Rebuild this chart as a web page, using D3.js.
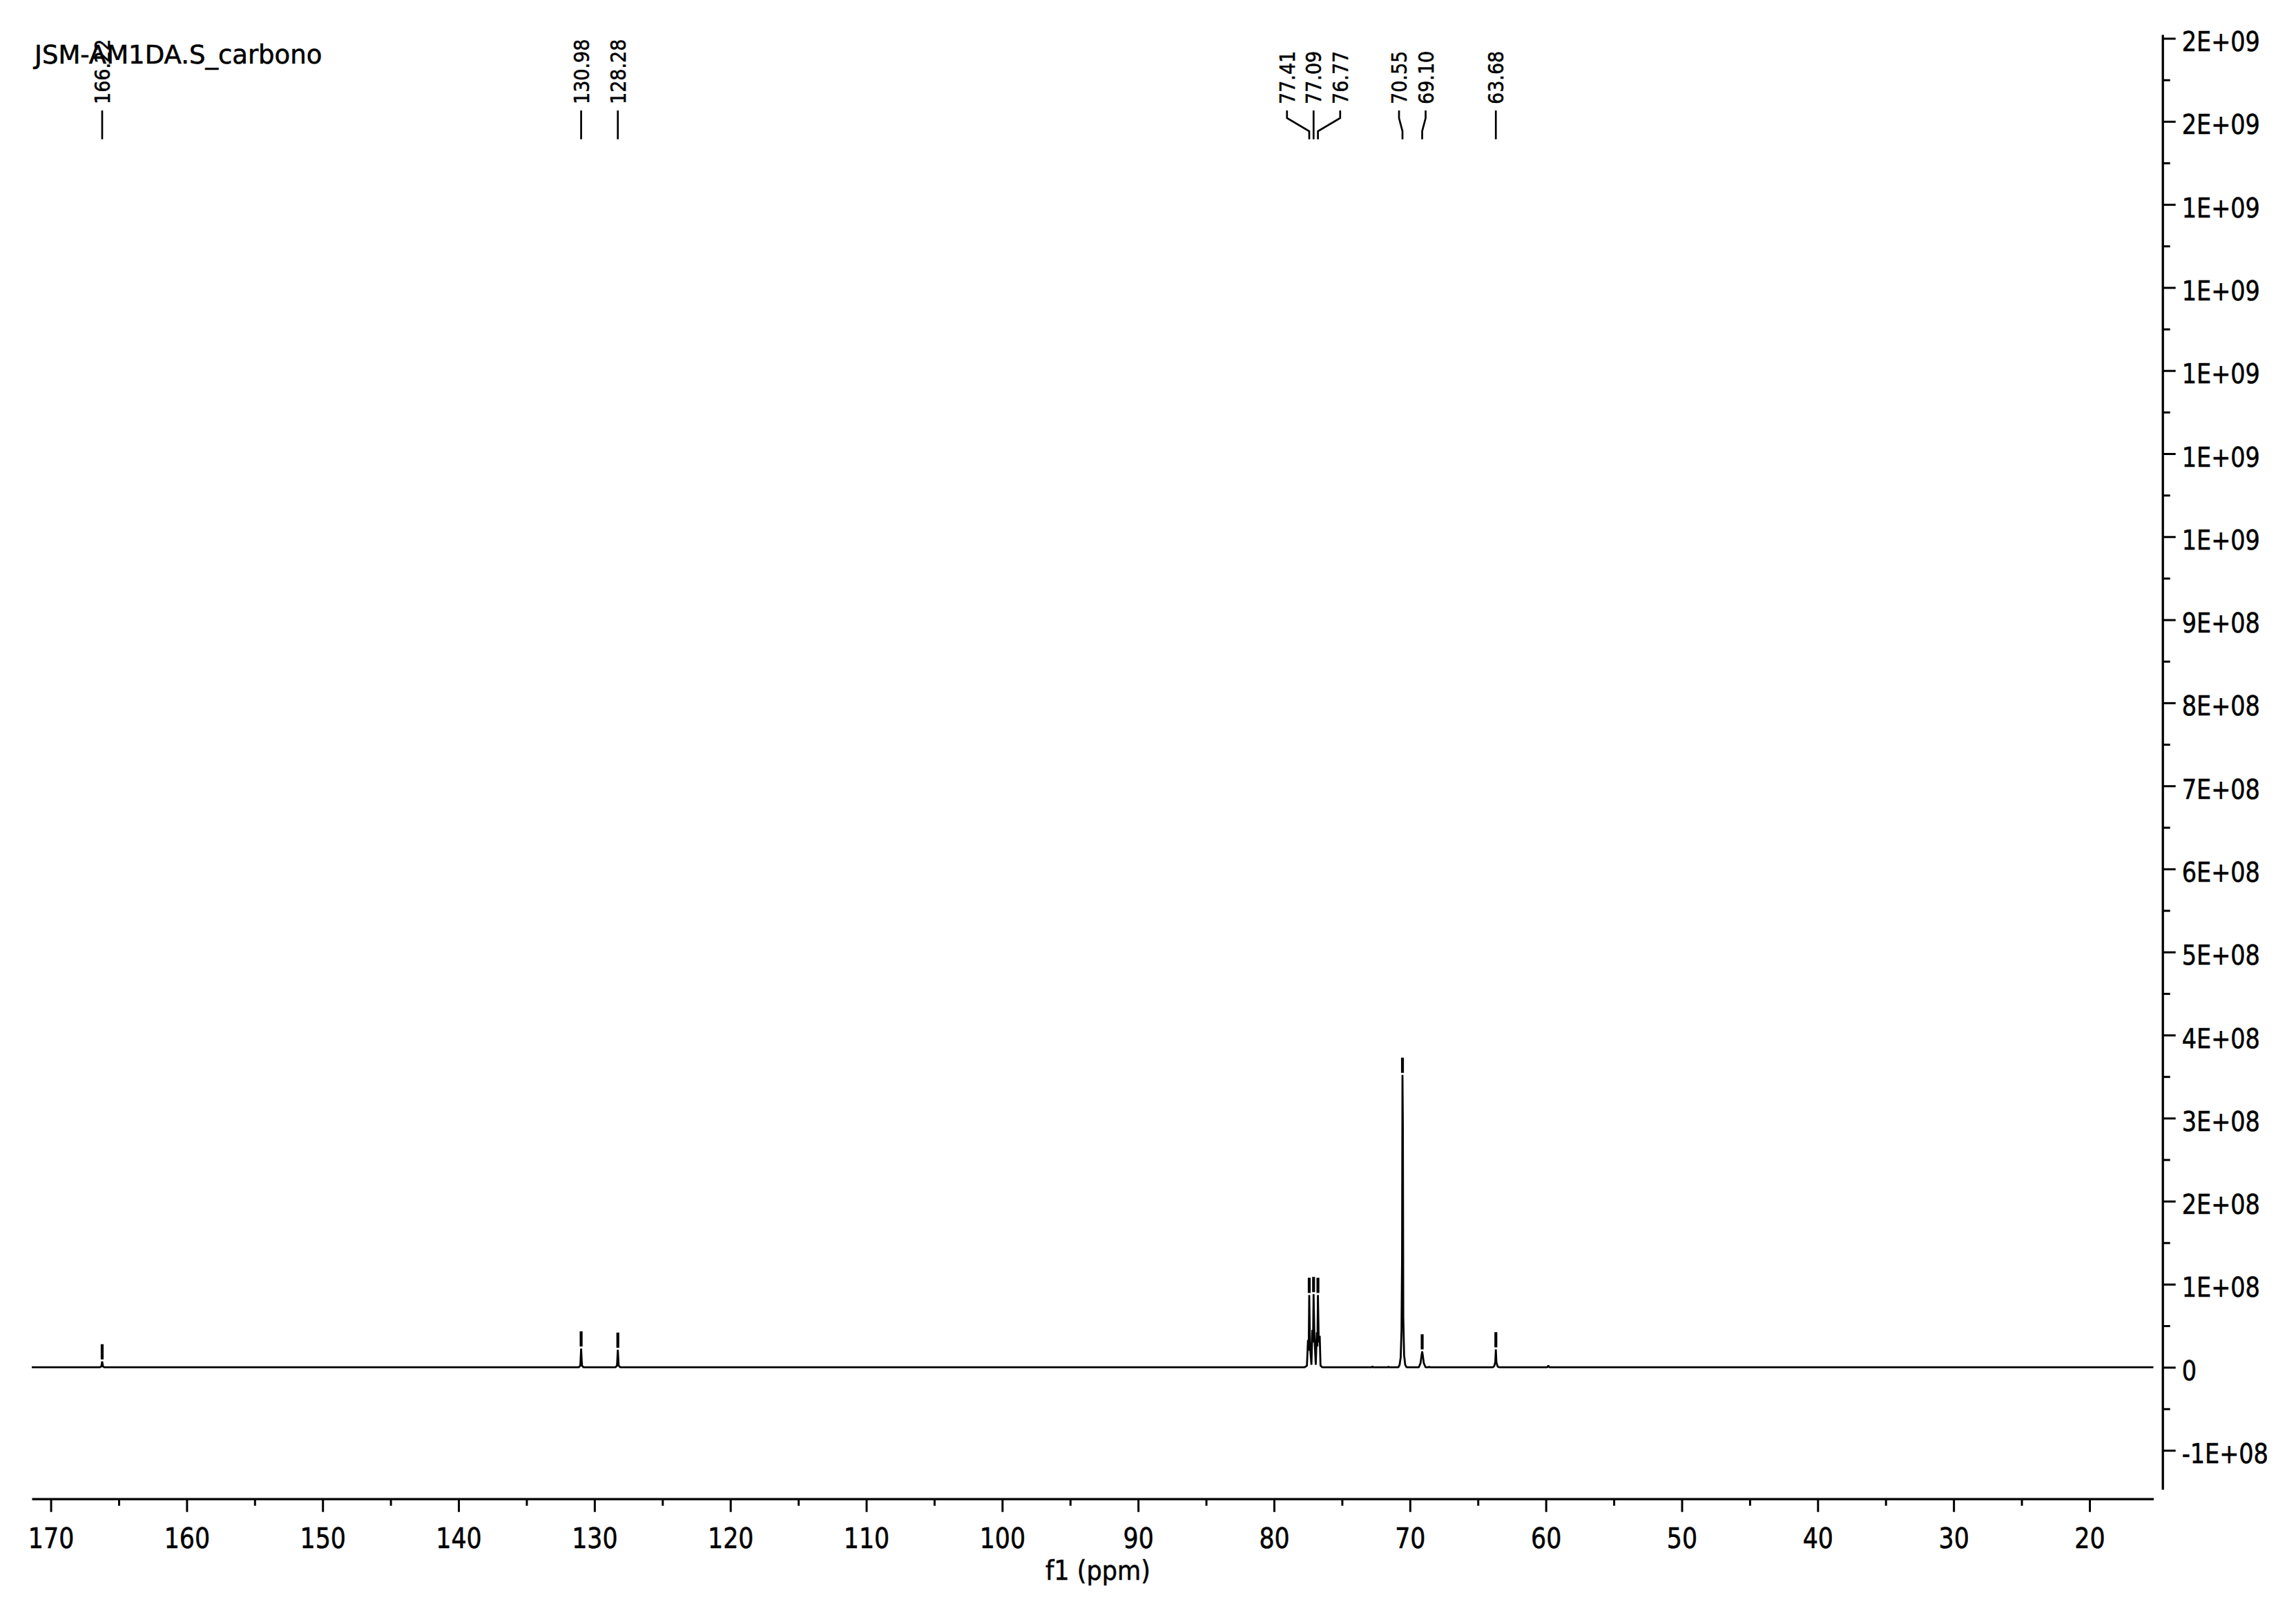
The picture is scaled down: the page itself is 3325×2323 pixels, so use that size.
<!DOCTYPE html>
<html><head><meta charset="utf-8">
<script src="https://cdn.jsdelivr.net/npm/d3@7"></script>
<style>
html,body{margin:0;padding:0;background:#fff;}
svg{display:block;background:#fff;}
text{font-family:"DejaVu Sans",Verdana,sans-serif;fill:#000;stroke:#000;stroke-width:0.6px;}
</style></head><body>
<svg id="chart" width="3325" height="2323"></svg>
<script>
// ---------- data ----------
const chartTitle = "JSM-AM1DA.S_carbono";
const xAxisTitle = "f1 (ppm)";
const xTickValues = [170,160,150,140,130,120,110,100,90,80,70,60,50,40,30,20];
const xMinorTickValues = [165,155,145,135,125,115,105,95,85,75,65,55,45,35,25];
const yTickValues = [-1e8,0,1e8,2e8,3e8,4e8,5e8,6e8,7e8,8e8,9e8,1.0e9,1.1e9,1.2e9,1.3e9,1.4e9,1.5e9,1.6e9];
const yTickLabels = ["-1E+08","0","1E+08","2E+08","3E+08","4E+08","5E+08","6E+08","7E+08","8E+08","9E+08","1E+09","1E+09","1E+09","1E+09","1E+09","2E+09","2E+09"];
const yMinorTickValues = [-5e7,5e7,1.5e8,2.5e8,3.5e8,4.5e8,5.5e8,6.5e8,7.5e8,8.5e8,9.5e8,1.05e9,1.15e9,1.25e9,1.35e9,1.45e9,1.55e9];
const peakPositions = [166.22,130.98,128.28,77.41,77.09,76.77,70.55,69.10,63.68];
const peakLabels = ["166.22","130.98","128.28","77.41","77.09","76.77","70.55","69.10","63.68"];
// spectrum: [ppm, intensity]
const spectrum = [
 [171.40,0],
 [166.40,0],[166.28,0.01e8],[166.22,0.07e8],[166.16,0.01e8],[166.05,0],
 [131.15,0],[131.04,0.02e8],[130.98,0.225e8],[130.92,0.02e8],[130.80,0],
 [128.45,0],[128.34,0.02e8],[128.28,0.21e8],[128.22,0.02e8],[128.10,0],
 [77.75,0],[77.58,0.02e8],[77.50,0.33e8],[77.45,0.2e8],[77.41,0.87e8],[77.35,0.25e8],[77.25,0.03e8],
 [77.18,0.45e8],[77.13,0.3e8],[77.09,0.88e8],[77.03,0.38e8],[76.93,0.03e8],
 [76.85,0.42e8],[76.81,0.25e8],[76.77,0.87e8],[76.71,0.3e8],[76.64,0.38e8],[76.58,0.02e8],[76.45,0],
 [72.80,0],[72.76,0.012e8],[72.72,0],
 [71.62,0],[71.58,0.01e8],[71.54,0],
 [70.85,0],[70.76,0.03e8],[70.68,0.12e8],[70.62,0.45e8],[70.58,1.3e8],[70.55,3.52e8],[70.52,2.9e8],
 [70.49,0.6e8],[70.43,0.15e8],[70.35,0.03e8],[70.25,0],
 [69.35,0],[69.22,0.05e8],[69.14,0.15e8],[69.10,0.19e8],[69.06,0.15e8],[68.98,0.05e8],[68.85,0],
 [68.62,0],[68.58,0.01e8],[68.54,0],
 [63.90,0],[63.80,0.015e8],[63.72,0.06e8],[63.68,0.215e8],[63.64,0.06e8],[63.55,0.01e8],[63.45,0],
 [59.90,0],[59.82,0.02e8],[59.74,0],
 [15.30,0]
];

// ---------- layout ----------
const svg = d3.select("#chart");
const x = d3.scaleLinear().domain([171.4, 15.3]).range([46, 3118.5]);
const y = d3.scaleLinear().domain([-1.47e8, 1.6046e9]).range([2157, 50]);
const xAxisY = 2170.7, yAxisX = 3131.7;
const squeeze = 0.87;

// spectrum line
svg.append("path")
  .datum(spectrum)
  .attr("fill","none").attr("stroke","#000").attr("stroke-width",2.8)
  .attr("stroke-linejoin","bevel")
  .attr("d", d3.line().x(d=>x(d[0])).y(d=>y(d[1])));

// x axis
const gx = svg.append("g").attr("transform",`translate(0,${xAxisY})`)
  .call(d3.axisBottom(x).tickValues(xTickValues).tickSize(19).tickSizeOuter(0).tickFormat(d3.format("d")));
gx.select(".domain").attr("stroke-width",3.3);
gx.selectAll(".tick line").attr("stroke-width",3);
gx.selectAll(".tick text").attr("font-size",40).attr("y",71.5).attr("dy",0)
  .attr("transform",`scale(${squeeze},1)`).style("font-family",'"DejaVu Sans",Verdana,sans-serif');
const gxm = svg.append("g").attr("transform",`translate(0,${xAxisY})`)
  .call(d3.axisBottom(x).tickValues(xMinorTickValues).tickSize(10).tickSizeOuter(0).tickFormat(""));
gxm.select(".domain").remove();
gxm.selectAll(".tick line").attr("stroke-width",3);

svg.append("text").attr("x",1590).attr("y",2288).attr("font-size",39)
  .attr("text-anchor","middle")
  .attr("transform",`translate(1590,0) scale(0.9,1) translate(-1590,0)`)
  .text(xAxisTitle);

// y axis (right)
const gy = svg.append("g").attr("transform",`translate(${yAxisX},0)`)
  .call(d3.axisRight(y).tickValues(yTickValues).tickSize(19).tickSizeOuter(0)
    .tickFormat((d,i)=>yTickLabels[i]));
gy.select(".domain").attr("stroke-width",3.3);
gy.selectAll(".tick line").attr("stroke-width",3);
gy.selectAll(".tick text").attr("font-size",38.5).attr("x",0).attr("dy","0.47em")
  .attr("transform",`translate(28,0) scale(${squeeze},1)`).style("font-family",'"DejaVu Sans",Verdana,sans-serif');
const gym = svg.append("g").attr("transform",`translate(${yAxisX},0)`)
  .call(d3.axisRight(y).tickValues(yMinorTickValues).tickSize(11).tickSizeOuter(0).tickFormat(""));
gym.select(".domain").remove();
gym.selectAll(".tick line").attr("stroke-width",3);

// title
svg.append("text").attr("x",50).attr("y",92).attr("font-size",37).text(chartTitle);

// peak markers above peaks
const peakH = peakPositions.map(p => spectrum.find(d => d[0] === p)[1]);
svg.append("g").selectAll("line").data(peakPositions).join("line")
  .attr("x1",d=>x(d)).attr("x2",d=>x(d))
  .attr("y1",(d,i)=>y(peakH[i]) - 25).attr("y2",(d,i)=>y(peakH[i]) - 3)
  .attr("stroke","#000").attr("stroke-width",4.2);

// label placement (spread overlapping labels)
const px = peakPositions.map(p => x(p));
const minSep = 38.5;
let groups = px.map((v,i)=>({idx:[i], center:v}));
let merged = true;
while (merged) {
  merged = false;
  for (let g = 0; g < groups.length - 1; g++) {
    const a = groups[g], b = groups[g+1];
    const aR = a.center + (a.idx.length-1)*minSep/2;
    const bL = b.center - (b.idx.length-1)*minSep/2;
    if (bL - aR < minSep) {
      const idx = a.idx.concat(b.idx);
      groups.splice(g, 2, {idx, center: d3.mean(idx, k => px[k])});
      merged = true; break;
    }
  }
}
const labelX = new Array(px.length);
groups.forEach(g => g.idx.forEach((k,j) => { labelX[k] = g.center + (j - (g.idx.length-1)/2)*minSep; }));

const gl = svg.append("g");
peakPositions.forEach((p,i) => {
  const lx = labelX[i], pxx = px[i];
  const dPath = Math.abs(lx - pxx) < 0.5
    ? `M${lx},160 L${pxx},201.7`
    : `M${lx},160 V171 L${pxx},190 V201.7`;
  gl.append("path").attr("d", dPath).attr("fill","none").attr("stroke","#000").attr("stroke-width",2.7);
  gl.append("text").attr("font-size",31).attr("dy","0.36em").attr("text-anchor","start")
    .attr("transform",`translate(${lx},151) rotate(-90) scale(${squeeze},1)`)
    .text(peakLabels[i]);
});
</script>
</body></html>
